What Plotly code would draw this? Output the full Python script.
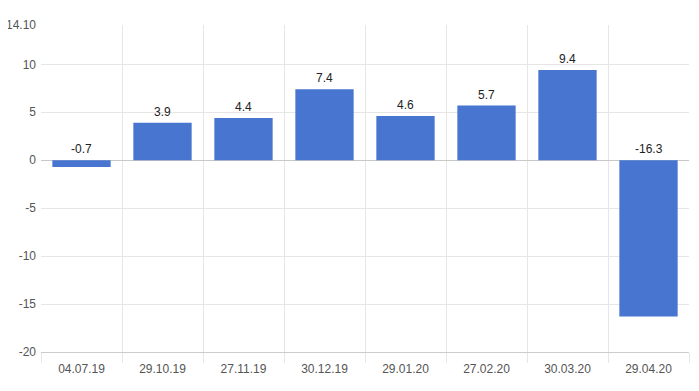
import plotly.graph_objects as go

categories = ["04.07.19", "29.10.19", "27.11.19", "30.12.19", "29.01.20", "27.02.20", "30.03.20", "29.04.20"]
values = [-0.7, 3.9, 4.4, 7.4, 4.6, 5.7, 9.4, -16.3]
labels = ["-0.7", "3.9", "4.4", "7.4", "4.6", "5.7", "9.4", "-16.3"]
y_ticks = [-20, -15, -10, -5, 0, 5, 10, 14.1]
y_ticktext = ["-20", "-15", "-10", "-5", "0", "5", "10", "14.10"]

fig = go.Figure()
fig.add_trace(go.Bar(x=categories, y=values, marker=dict(color="#4775d0", line=dict(width=0)),
                     hoverinfo="x+y"))

for c, v, t in zip(categories, values, labels):
    fig.add_annotation(x=c, y=max(v, 0), text=t, showarrow=False, yanchor="bottom", yshift=2,
                       font=dict(family="Arial, Liberation Sans", size=12, color="#222222"))

# page body has an 8px default margin, so the figure is sized to fit the window
fig.update_layout(
    width=691, height=383,
    margin=dict(l=33, r=10, t=17, b=39),
    paper_bgcolor="white", plot_bgcolor="white",
    bargap=0.28, showlegend=False,
    font=dict(family="Arial, Liberation Sans", size=12, color="#666666"),
)
fig.update_xaxes(type="category", tickson="boundaries", showgrid=True, gridcolor="#e6e6e6", gridwidth=1,
                 ticks="outside", ticklen=10, tickcolor="#e6e6e6", ticklabelstandoff=6,
                 tickfont=dict(size=12, color="#555555"),
                 showline=True, linecolor="#cccccc", linewidth=1, zeroline=False, automargin=False)
fig.update_yaxes(range=[-20, 14.1], tickvals=y_ticks, ticktext=y_ticktext, showgrid=True,
                 gridcolor="#e6e6e6", gridwidth=1, zeroline=True, zerolinecolor="#c8c8c8", zerolinewidth=1,
                 ticks="", ticklabelstandoff=4, tickfont=dict(size=12, color="#555555"), showline=False,
                 automargin=False)

fig.write_html("out.html")
